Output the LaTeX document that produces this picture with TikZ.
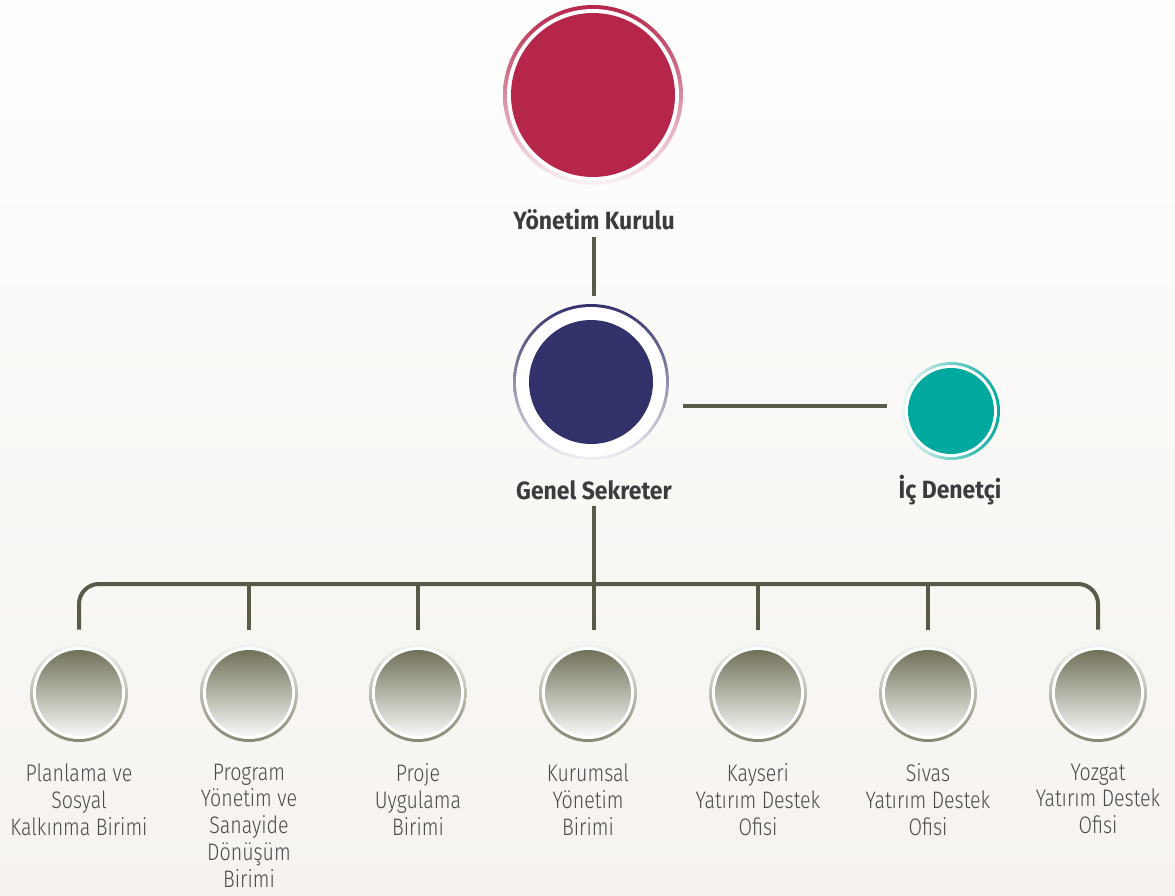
\documentclass[tikz,border=0pt]{standalone}
\usepackage{fontspec}
\setmainfont{Fira Sans}[FakeStretch=0.92]
\newfontfamily\lightfont{Fira Sans Light}[FakeStretch=0.82]
\usetikzlibrary{positioning}

\definecolor{kurulred}{HTML}{B6264B}
\definecolor{sekreterblue}{HTML}{32316A}
\definecolor{denetcigreen}{HTML}{00A99D}
\definecolor{unitolive}{HTML}{71715A}
\definecolor{linegray}{HTML}{5A5A4A}
\definecolor{titlegray}{HTML}{3C3C3C}
\definecolor{labelgray}{HTML}{4A4A4A}
\definecolor{bgtop}{HTML}{FEFEFD}
\definecolor{bgbottom}{HTML}{F6F3EF}

\tikzset{
  ring/.style={circle, inner sep=0pt, minimum size=#1},
  gap/.style={circle, inner sep=0pt, fill=white, minimum size=#1},
  title/.style={font=\fontsize{14.2}{16}\selectfont\bfseries, text=titlegray},
  unitlabel/.style={font=\lightfont\fontsize{13.6}{15.3}\selectfont, text=labelgray, align=center, inner sep=0pt},
  conn/.style={draw=linegray, line width=0.08cm},
}

\begin{document}
\begin{tikzpicture}[x=0.02cm, y=-0.02cm]
        \shade[top color=bgtop, bottom color=bgbottom] (0,0) rectangle (1175,895);
        \useasboundingbox (0,0) rectangle (1175,895);

        % Yonetim Kurulu
        \node[ring=3.6cm, top color=kurulred, bottom color=kurulred!6] (yk) at (593,95) {};
        \node[gap=3.44cm] at (yk) {};
        \node[ring=3.28cm, fill=kurulred] at (yk) {};
        \node[title] (ykt) at (594,220) {Yönetim Kurulu};

        % Genel Sekreter
        \node[ring=3.12cm, top color=sekreterblue, bottom color=sekreterblue!8] (gs) at (591,382) {};
        \node[gap=3.0cm] at (gs) {};
        \node[ring=2.48cm, fill=sekreterblue] at (gs) {};
        \node[title] (gst) at (594,490) {Genel Sekreter};

        % Ic Denetci
        \node[ring=1.96cm, left color=denetcigreen!8, right color=denetcigreen] (ic) at (951,411) {};
        \node[gap=1.84cm] at (ic) {};
        \node[ring=1.72cm, fill=denetcigreen] at (ic) {};
        \node[title] (ict) at (950,490) {İç Denetçi};

        % birimler
        \foreach \i/\x in {1/79,2/249,3/418,4/588,5/758,6/928,7/1098} {
            \node[ring=1.96cm, top color=unitolive!8, bottom color=unitolive!85] (u\i) at (\x,693) {};
            \node[gap=1.84cm] at (u\i) {};
            \node[ring=1.72cm, top color=unitolive, bottom color=unitolive!5] at (u\i) {};
        }
        \node[unitlabel, below=0.42cm of u1] (l1) {Planlama ve\\Sosyal\\Kalkınma Birimi};
        \node[unitlabel, below=0.42cm of u2] (l2) {Program\\Yönetim ve\\Sanayide\\Dönüşüm\\Birimi};
        \node[unitlabel, below=0.42cm of u3] (l3) {Proje\\Uygulama\\Birimi};
        \node[unitlabel, below=0.42cm of u4] (l4) {Kurumsal\\Yönetim\\Birimi};
        \node[unitlabel, below=0.42cm of u5] (l5) {Kayseri\\Yatırım Destek\\Ofisi};
        \node[unitlabel, below=0.42cm of u6] (l6) {Sivas\\Yatırım Destek\\Ofisi};
        \node[unitlabel, below=0.42cm of u7] (l7) {Yozgat\\Yatırım Destek\\Ofisi};

        \draw[conn] (ykt.south) -- ([yshift=0.16cm]ykt.south |- gs.north);
        \draw[conn] ([xshift=0.28cm,yshift=0.1cm]gs.east |- ic.west) -- ([xshift=-0.3cm,yshift=0.1cm]ic.west);
        \coordinate (bus) at (593,584);
        \draw[conn] (gst.south) -- ([yshift=0.28cm]gst.south |- u4.north);
        \draw[conn, rounded corners=0.4cm] ([yshift=0.28cm]u1.north) |- (bus) -| ([yshift=0.28cm]u7.north);
        \foreach \i in {2,3,5,6} \draw[conn] ([yshift=0.28cm]u\i.north) -- (u\i.north |- bus);
\end{tikzpicture}
\end{document}
